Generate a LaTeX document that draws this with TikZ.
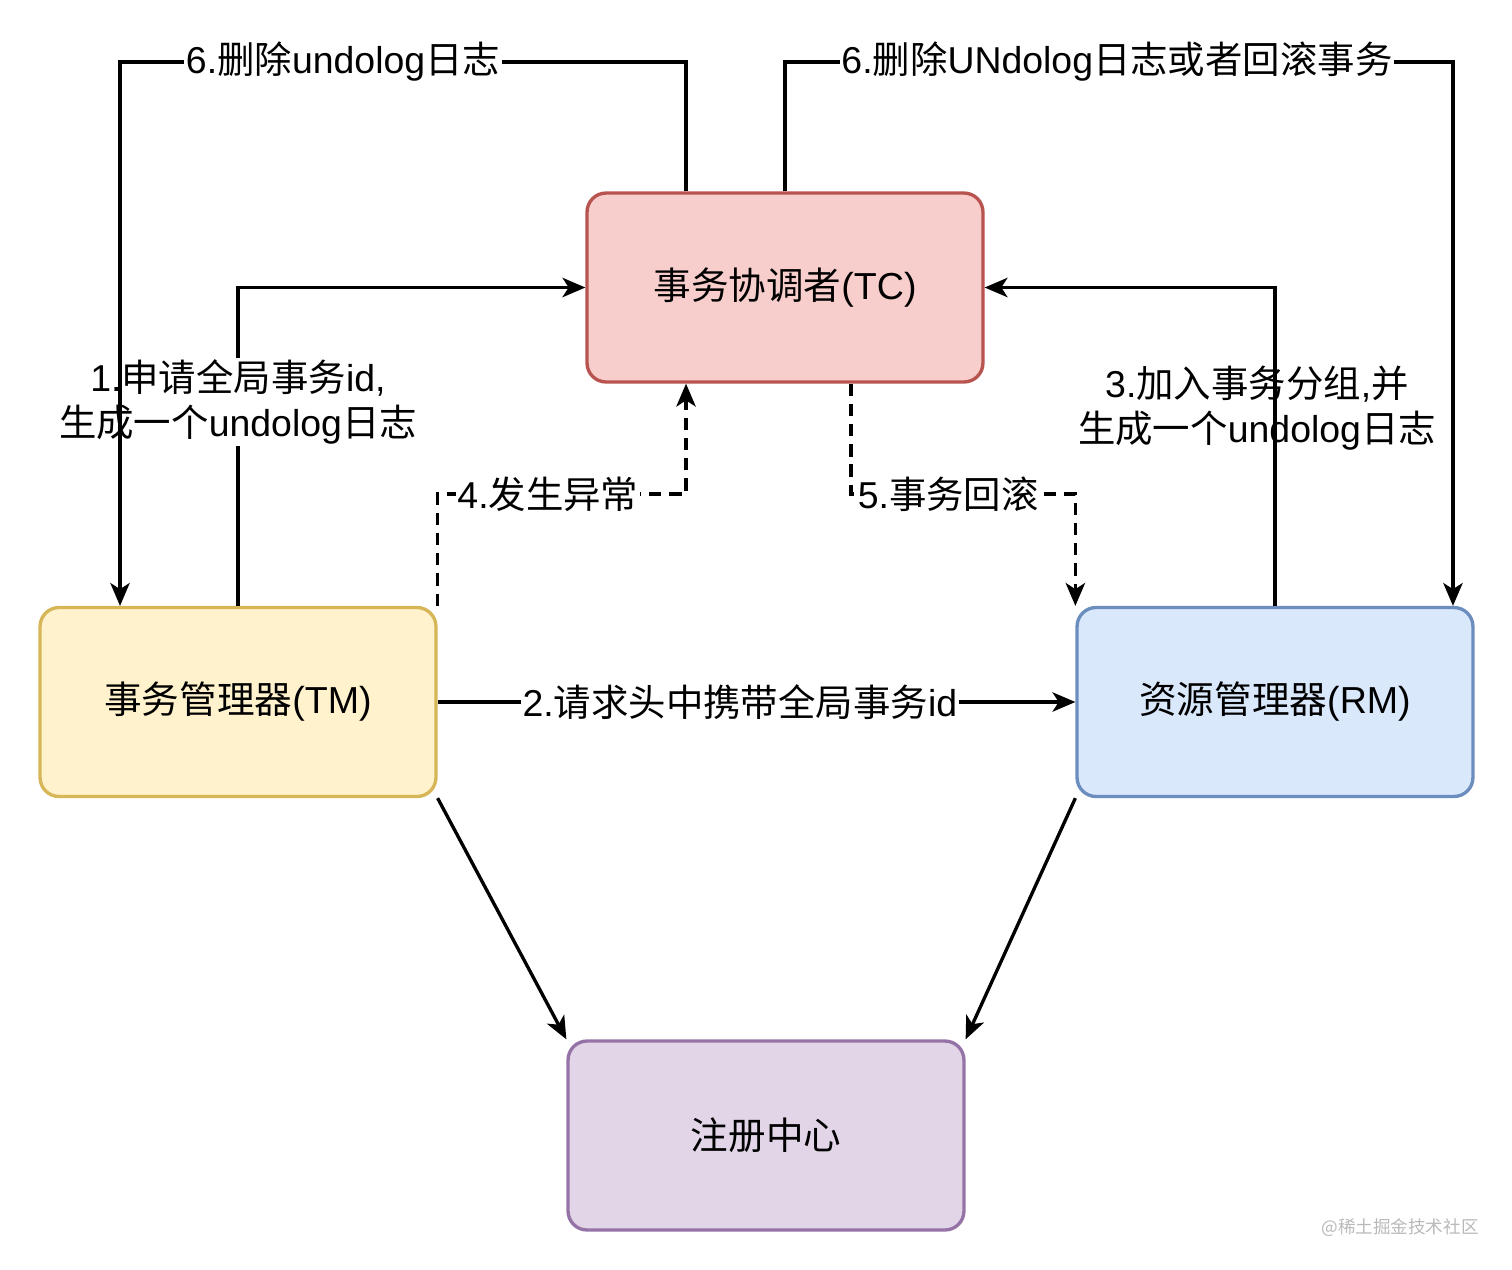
\documentclass[tikz,border=0pt]{standalone}
\usepackage{fontspec}
\setmainfont{Liberation Sans}
\newfontfamily\cjk{Noto Sans CJK SC}
\newcommand{\zh}[1]{{\cjk #1}}
\usetikzlibrary{positioning, arrows.meta}

\definecolor{tcfill}{HTML}{F8CECC}\definecolor{tcline}{HTML}{B85450}
\definecolor{tmfill}{HTML}{FFF2CC}\definecolor{tmline}{HTML}{D6B656}
\definecolor{rmfill}{HTML}{DAE8FC}\definecolor{rmline}{HTML}{6C8EBF}
\definecolor{regfill}{HTML}{E1D5E7}\definecolor{regline}{HTML}{9673A6}

\begin{document}
\begin{tikzpicture}[
    x=0.02cm, y=-0.02cm,
    >={Stealth[length=13pt, width=11pt, inset=3.5pt]}, line width=1.9pt,
    box/.style={rectangle, rounded corners=0.38cm, minimum width=7.92cm,
        minimum height=3.78cm, font=\fontsize{21.4}{26}\selectfont},
    lbl/.style={fill=white, inner sep=1pt, align=center,
        font=\fontsize{21.3}{25.5}\selectfont},
    dashline/.style={dash pattern=on 7pt off 4.5pt}
]
    \useasboundingbox (0,0) rectangle (1512,1269);

    % Components
    \node[box, fill=tcfill, draw=tcline] (tc) at (785,287.5) {\zh{事务协调者}(TC)};
    \node[box, fill=tmfill, draw=tmline] (tm) at (238,702) {\zh{事务管理器}(TM)};
    \node[box, fill=rmfill, draw=rmline] (rm) at (1275,702) {\zh{资源管理器}(RM)};
    \node[box, fill=regfill, draw=regline] (reg) at (766,1135.5) {\zh{注册中心}};

    % Routing points
    \coordinate (top) at (0,62);
    \coordinate (mid) at (0,494);

    % 1. TM -> TC
    \draw[->] (tm.north) |- node[lbl, pos=0.32] {1.\zh{申请全局事务}id,\\\zh{生成一个}undolog\zh{日志}} (tc.west);

    % 2. TM -> RM
    \draw[->] (tm.east) -- node[lbl, pos=0.474] {2.\zh{请求头中携带全局事务}id} (rm.west);

    % 3. RM -> TC
    \draw[->] (rm.north) |- node[lbl, fill=none, pos=0.31, xshift=-0.36cm] {3.\zh{加入事务分组},\zh{并}\\\zh{生成一个}undolog\zh{日志}} (tc.east);

    % 4. / 5. exception and rollback
    \draw[->, dashline] (tm.north east) -- (tm.north east |- mid)
        -- node[lbl, pos=0.444] {4.\zh{发生异常}} ([xshift=-1.98cm]tc.south |- mid)
        -- ([xshift=-1.98cm]tc.south);
    \draw[->, dashline] ([xshift=1.32cm]tc.south) -- ([xshift=1.32cm]tc.south |- mid)
        -- node[lbl, pos=0.434] {5.\zh{事务回滚}} (rm.north west |- mid)
        -- (rm.north west);

    % 6. TC -> TM / RM
    \draw[->] ([xshift=-1.98cm]tc.north) -- ([xshift=-1.98cm]tc.north |- top)
        -- node[lbl, pos=0.606] {6.\zh{删除}undolog\zh{日志}} ([xshift=-2.36cm]tm.north |- top)
        -- ([xshift=-2.36cm]tm.north);
    \draw[->] (tc.north) -- (tc.north |- top)
        -- node[lbl, pos=0.497] {6.\zh{删除}UNdolog\zh{日志或者回滚事务}} ([xshift=3.56cm]rm.north |- top)
        -- ([xshift=3.56cm]rm.north);

    % Registry
    \draw[->] (tm.south east) -- (reg.north west);
    \draw[->] (rm.south west) -- (reg.north east);

    \node[text=gray!55, font=\cjk\fontsize{10}{12}\selectfont] (mark) at (1400,1228) {@稀土掘金技术社区};
\end{tikzpicture}
\end{document}
